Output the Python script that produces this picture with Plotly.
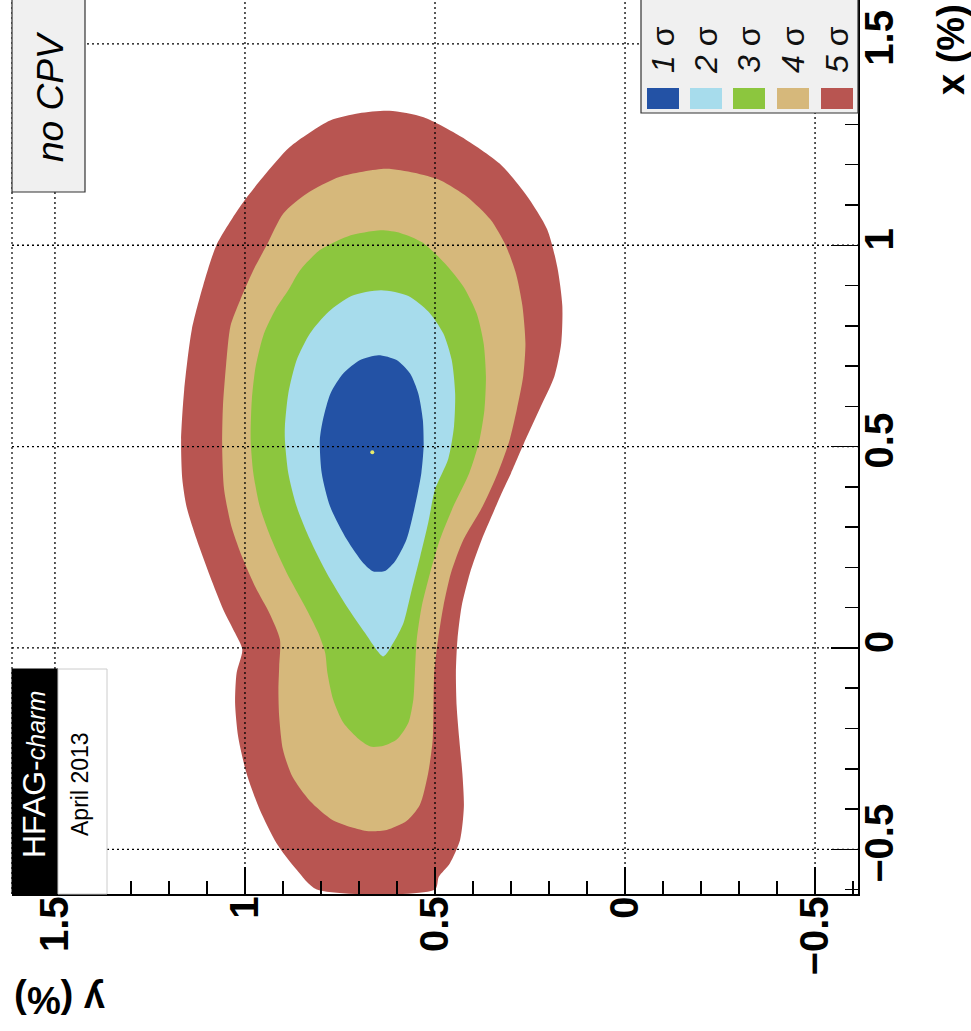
import plotly.graph_objects as go

# ---------------- data ----------------
# contour boundaries as (y [%], x [%]) pairs
contour_5sigma = [
    (0.62, 1.334), (0.53, 1.318), (0.43, 1.269), (0.33, 1.203), (0.26, 1.125),
    (0.205, 1.040), (0.178, 0.945), (0.165, 0.850), (0.168, 0.756), (0.186, 0.674),
    (0.222, 0.599), (0.262, 0.517), (0.300, 0.434), (0.320, 0.394), (0.345, 0.340),
    (0.377, 0.269), (0.408, 0.186), (0.430, 0.103), (0.441, 0.020), (0.445, -0.062),
    (0.443, -0.145), (0.436, -0.228), (0.428, -0.311), (0.424, -0.394), (0.434, -0.477),
    (0.461, -0.535), (0.490, -0.568), (0.500, -0.600), (0.811, -0.600), (0.864, -0.551),
    (0.917, -0.485), (0.961, -0.402), (0.996, -0.311), (1.018, -0.220), (1.026, -0.137),
    (1.022, -0.062), (1.007, -0.004), (1.026, 0.037), (1.057, 0.095), (1.092, 0.178),
    (1.127, 0.269), (1.154, 0.352), (1.165, 0.420), (1.168, 0.517), (1.160, 0.640),
    (1.140, 0.790), (1.110, 0.900), (1.075, 1.000), (1.010, 1.100), (0.952, 1.170),
    (0.882, 1.244), (0.776, 1.310), (0.70, 1.328),
]
contour_4sigma = [
    (0.63, 1.190), (0.555, 1.180), (0.485, 1.161), (0.415, 1.120), (0.354, 1.064),
    (0.315, 1.002), (0.287, 0.930), (0.270, 0.850), (0.262, 0.756), (0.268, 0.674),
    (0.285, 0.591), (0.305, 0.512), (0.335, 0.434), (0.375, 0.351), (0.425, 0.269),
    (0.458, 0.186), (0.478, 0.103), (0.492, 0.021), (0.502, -0.062), (0.504, -0.145),
    (0.506, -0.228), (0.518, -0.311), (0.540, -0.390), (0.575, -0.430), (0.627, -0.452),
    (0.675, -0.455), (0.720, -0.445), (0.770, -0.427), (0.829, -0.380), (0.875, -0.320),
    (0.900, -0.253), (0.910, -0.170), (0.912, -0.104), (0.910, -0.046), (0.908, 0.021),
    (0.935, 0.085), (0.972, 0.150), (1.005, 0.220), (1.035, 0.300), (1.055, 0.394),
    (1.060, 0.500), (1.058, 0.600), (1.050, 0.700), (1.038, 0.800), (1.013, 0.863),
    (0.978, 0.938), (0.943, 1.000), (0.899, 1.079), (0.838, 1.128), (0.750, 1.170),
]
contour_3sigma = [
    (0.643, 1.037), (0.590, 1.030), (0.535, 1.008), (0.475, 0.956), (0.425, 0.897),
    (0.390, 0.830), (0.372, 0.756), (0.366, 0.674), (0.370, 0.591), (0.384, 0.512),
    (0.410, 0.434), (0.452, 0.351), (0.487, 0.269), (0.513, 0.186), (0.535, 0.103),
    (0.548, 0.021), (0.553, -0.062), (0.557, -0.128), (0.570, -0.186), (0.600, -0.227),
    (0.635, -0.243), (0.670, -0.245), (0.700, -0.227), (0.741, -0.186), (0.768, -0.128),
    (0.783, -0.062), (0.789, -0.012), (0.807, 0.037), (0.842, 0.103), (0.890, 0.186),
    (0.930, 0.269), (0.961, 0.351), (0.978, 0.434), (0.985, 0.517), (0.982, 0.616),
    (0.972, 0.698), (0.950, 0.781), (0.920, 0.840), (0.885, 0.890), (0.855, 0.938),
    (0.803, 0.988), (0.730, 1.022),
]
contour_2sigma = [
    (0.642, 0.888), (0.570, 0.874), (0.517, 0.835), (0.478, 0.781), (0.456, 0.715),
    (0.447, 0.632), (0.450, 0.550), (0.465, 0.470), (0.500, 0.393), (0.518, 0.310),
    (0.539, 0.227), (0.561, 0.145), (0.583, 0.062), (0.610, 0.012), (0.636, -0.021),
    (0.684, 0.037), (0.732, 0.103), (0.785, 0.186), (0.829, 0.269), (0.864, 0.351),
    (0.886, 0.434), (0.895, 0.517), (0.895, 0.550), (0.886, 0.632), (0.864, 0.715),
    (0.829, 0.781), (0.780, 0.835), (0.720, 0.874),
]
contour_1sigma = [
    (0.649, 0.727), (0.601, 0.715), (0.566, 0.682), (0.544, 0.632), (0.532, 0.566),
    (0.530, 0.500), (0.536, 0.434), (0.553, 0.351), (0.575, 0.269), (0.605, 0.215),
    (0.630, 0.192), (0.662, 0.190), (0.689, 0.211), (0.732, 0.269), (0.776, 0.351),
    (0.798, 0.434), (0.803, 0.517), (0.795, 0.566), (0.775, 0.632), (0.741, 0.682),
    (0.697, 0.715),
]
best_fit = (0.665, 0.486)   # (y, x)

sigma_labels = ["1", "2", "3", "4", "5"]
sigma_colors = ["#2352a5", "#a7dcec", "#8cc63e", "#d6b87b", "#b85551"]
contours = [contour_1sigma, contour_2sigma, contour_3sigma, contour_4sigma, contour_5sigma]

tick_values = [-0.5, 0.0, 0.5, 1.0, 1.5]

# ---------------- layout geometry helpers (pixels -> paper) ----------------
PL, PR, PT, PB = 12, 858, 0, 894
def px2x(px):
    return (px - PL) / (PR - PL)
def py2y(py):
    return (PB - py) / (PB - PT)

fig = go.Figure()

# contours drawn from the outermost to the innermost
for pts, col in reversed(list(zip(contours, sigma_colors))):
    ys = [p[0] for p in pts] + [pts[0][0]]
    xs = [p[1] for p in pts] + [pts[0][1]]
    fig.add_trace(go.Scatter(x=ys, y=xs, mode="lines", fill="toself",
                             fillcolor=col,
                             line=dict(width=0, color=col, shape="spline", smoothing=0.7),
                             hoverinfo="skip", showlegend=False))

fig.add_trace(go.Scatter(x=[best_fit[0]], y=[best_fit[1]], mode="markers",
                         marker=dict(size=4, color="#e8ea6a"),
                         hoverinfo="skip", showlegend=False))

shapes = []
grid_line = dict(color="black", width=1.3, dash="2px,3px")
for v in tick_values:
    shapes.append(dict(type="line", xref="x", yref="paper", x0=v, x1=v, y0=0, y1=1,
                       line=grid_line, layer="above"))
    shapes.append(dict(type="line", xref="paper", yref="y", x0=0, x1=1, y0=v, y1=v,
                       line=grid_line, layer="above"))
# left frame edge
shapes.append(dict(type="line", xref="paper", yref="paper", x0=0, x1=0, y0=0, y1=1,
                   line=dict(color="black", width=1.2, dash="2px,3px"), layer="above"))

# "no CPV" box
shapes.append(dict(type="rect", xref="paper", yref="paper", x0=0, x1=px2x(85),
                   y0=py2y(192), y1=1.02, fillcolor="#f0f0f0",
                   line=dict(color="#333333", width=1.2), layer="above"))
# legend box
shapes.append(dict(type="rect", xref="paper", yref="paper", x0=px2x(641), x1=1,
                   y0=py2y(113), y1=1.02, fillcolor="#f0f0f0",
                   line=dict(color="#333333", width=1.2), layer="above"))
# HFAG logo boxes
shapes.append(dict(type="rect", xref="paper", yref="paper", x0=0, x1=px2x(58),
                   y0=0, y1=py2y(669), fillcolor="black",
                   line=dict(color="black", width=1), layer="above"))
shapes.append(dict(type="rect", xref="paper", yref="paper", x0=px2x(58), x1=px2x(107),
                   y0=0, y1=py2y(669), fillcolor="white",
                   line=dict(color="#cccccc", width=1), layer="above"))

annotations = []
swatch_centres = [663, 706, 749, 793, 837]
for lab, col, cx in zip(sigma_labels, sigma_colors, swatch_centres):
    shapes.append(dict(type="rect", xref="paper", yref="paper",
                       x0=px2x(cx - 16), x1=px2x(cx + 16), y0=py2y(109), y1=py2y(88),
                       fillcolor=col, line=dict(width=0), layer="above"))
    annotations.append(dict(xref="paper", yref="paper", x=px2x(cx), y=py2y(50),
                            text=f"<i>{lab}</i> σ", showarrow=False, textangle=-90,
                            font=dict(family="Liberation Sans", size=32, color="#111111"),
                            xanchor="center", yanchor="middle"))

annotations += [
    dict(xref="paper", yref="paper", x=px2x(51), y=py2y(97), text="<i>no CPV</i>",
         showarrow=False, textangle=-90, xanchor="center", yanchor="middle",
         font=dict(family="Liberation Sans", size=37, color="black")),
    dict(xref="paper", yref="paper", x=px2x(34), y=py2y(775),
         text="HFAG-<i><span style='font-size:25px'>charm</span></i>",
         showarrow=False, textangle=-90, xanchor="center", yanchor="middle",
         font=dict(family="Liberation Sans", size=32, color="white")),
    dict(xref="paper", yref="paper", x=px2x(80), y=py2y(784), text="April 2013",
         showarrow=False, textangle=-90, xanchor="center", yanchor="middle",
         font=dict(family="Liberation Sans", size=23, color="black")),
    dict(xref="paper", yref="paper", x=px2x(951), y=py2y(50), text="<b>x (%)</b>",
         showarrow=False, textangle=-90, xanchor="center", yanchor="middle",
         font=dict(family="Liberation Sans", size=38, color="black")),
    dict(xref="paper", yref="paper", x=px2x(60), y=py2y(1000), text="<b>y (%)</b>",
         showarrow=False, textangle=180, xanchor="center", yanchor="middle",
         font=dict(family="Liberation Sans", size=38, color="black")),
]

axis_common = dict(
    tickvals=tick_values, ticks="inside", ticklen=27, tickwidth=1.5, tickcolor="black",
    tickangle=-90, showgrid=False, zeroline=False, showline=True, linecolor="black",
    linewidth=1.5, ticklabelstandoff=-15, automargin=False,
    tickfont=dict(family="Liberation Sans", size=40, color="black", weight="bold"),
    minor=dict(dtick=0.1, tick0=0, ticks="inside", ticklen=13, tickwidth=1.5,
               tickcolor="black", showgrid=False),
)

fig.update_layout(
    width=971, height=1031,
    margin=dict(l=PL, r=971 - PR, t=PT, b=1031 - PB, pad=0, autoexpand=False),
    paper_bgcolor="white", plot_bgcolor="white",
    xaxis=dict(range=[1.613, -0.613], **axis_common),
    yaxis=dict(range=[-0.611, 1.609], side="right", **axis_common),
    shapes=shapes, annotations=annotations, showlegend=False,
)

fig.write_html("out.html", config={"displayModeBar": False, "staticPlot": True},
               post_script="document.body.style.margin='0';document.body.style.overflow='hidden';")
